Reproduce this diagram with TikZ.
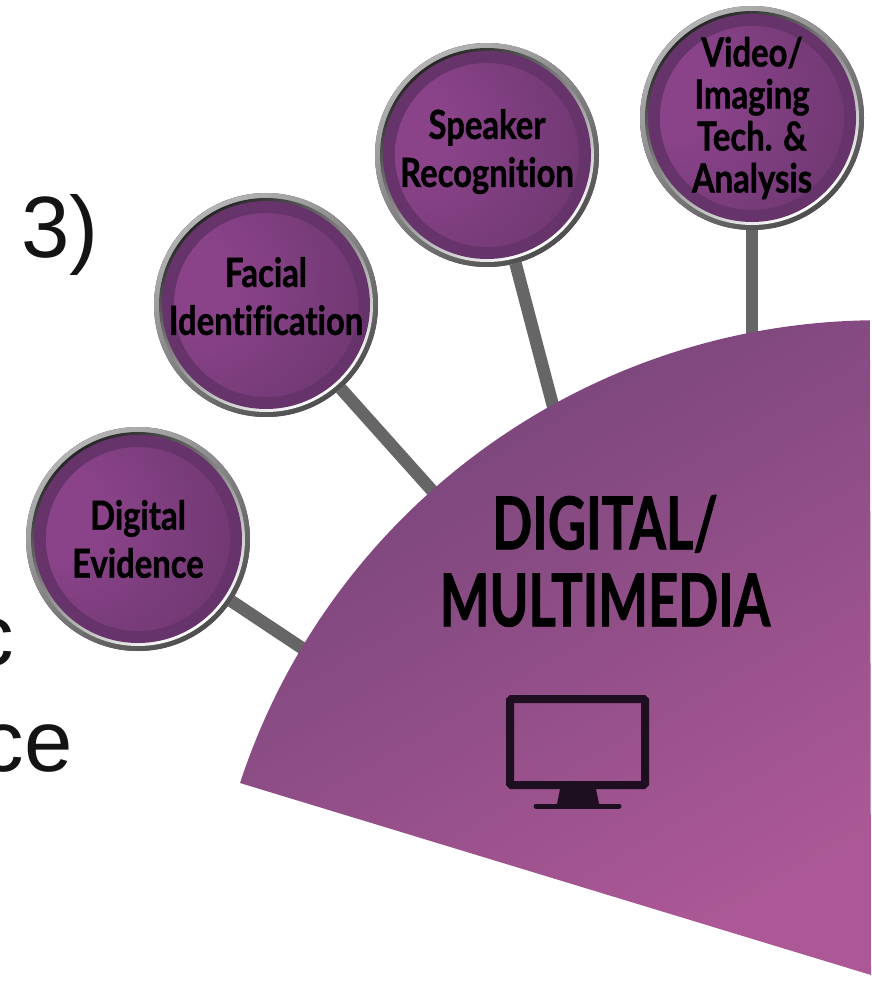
\documentclass[tikz,border=0pt]{standalone}
\usepackage{fontspec}
\setmainfont{Liberation Sans}
\newfontfamily\labelfont[FakeStretch=0.82,FakeBold=1,Ligatures=NoCommon]{Lato Bold}
\newfontfamily\titlefont[FakeStretch=0.72,FakeBold=1,Ligatures=NoCommon]{Lato Bold}
\definecolor{ringlight}{HTML}{B4B4B4}
\definecolor{ringdark}{HTML}{4E4E4E}
\definecolor{topicdark}{HTML}{66346A}
\definecolor{topiclight}{HTML}{8A4389}
\definecolor{stemgray}{HTML}{666666}
\definecolor{iconblack}{HTML}{1E0F20}
\definecolor{wedgedark}{HTML}{744478}
\definecolor{wedgelight}{HTML}{AC5896}
\pgfdeclareradialshading{topicglow}{\pgfpoint{-25bp}{8bp}}{color(0bp)=(topiclight); color(12bp)=(topiclight); color(54bp)=(topicdark); color(100bp)=(topicdark)}
\tikzset{
	topic/.style={circle, fill=topicdark, minimum size=224pt, inner sep=0pt, outer sep=0pt, align=center,
		font=\labelfont\fontsize{40}{48}\selectfont,
		path picture={
			\shade [top color=ringlight, bottom color=ringdark, shading angle=35] (path picture bounding box.center) circle (112);
			\shade [top color=black!85, bottom color=white, shading angle=35] (path picture bounding box.center) circle (107);
			\fill [topicdark] (path picture bounding box.center) circle (104);
			\shade [shading=topicglow] (path picture bounding box.center) circle (92);
		}},
	stem/.style={stemgray, line width=12.5pt},
	cuttext/.style={font=\fontsize{87}{87}\selectfont, inner sep=0pt, text=black!92, anchor=base east}
}
\begin{document}
\begin{tikzpicture}[x=1pt, y=-1pt]
	\useasboundingbox (0,0) rectangle (871,992);
	\clip (0,0) rectangle (871,992);

	\node [cuttext] (three) at (99,258) {3)};
	\node [cuttext] (linec) at (14,665) {c};
	\node [cuttext] (linece) at (73,771) {ce};

	\node [topic] (digital) at (138,539) {Digital\\Evidence};
	\node [topic, text depth=18pt] (facial) at (266,305) {Facial\\Identification};
	\node [topic, text depth=14pt] (speaker) at (487,155) {Speaker\\Recognition};
	\node [topic, font=\labelfont\fontsize{40}{42}\selectfont] (video) at (752,118) {Video/\\Imaging\\Tech. \&\\Analysis};

	\coordinate (digitalend) at (320,660);
	\coordinate (facialend) at (445,505);
	\coordinate (speakerend) at (558,425);
	\coordinate (videoend) at (752,350);

	\draw [stem] (digital) -- (digitalend);
	\draw [stem] (facial) -- (facialend);
	\draw [stem] (speaker) -- (speakerend);
	\draw [stem] (video) -- (videoend);

	\shade [top color=wedgedark, bottom color=wedgelight, shading angle=30]
		(240,783) arc [start angle=198.2, end angle=269.2, radius=673] -- (871,975) -- cycle;

	\node [font=\titlefont\fontsize{73}{77}\selectfont, align=center, inner sep=0pt] (title) at (605,561) {DIGITAL/\\MULTIMEDIA};

	\node [draw=iconblack, line width=8pt, rounded corners=1.5pt, minimum width=135pt, minimum height=86pt, inner sep=0pt] (screen) at (577.5,742) {};
	\fill [iconblack] (560,789) -- (596,789) -- (599,804) -- (557,804) -- cycle;
	\draw [iconblack, line width=5pt, line cap=round] (536,806) -- (619,806);
\end{tikzpicture}
\end{document}
